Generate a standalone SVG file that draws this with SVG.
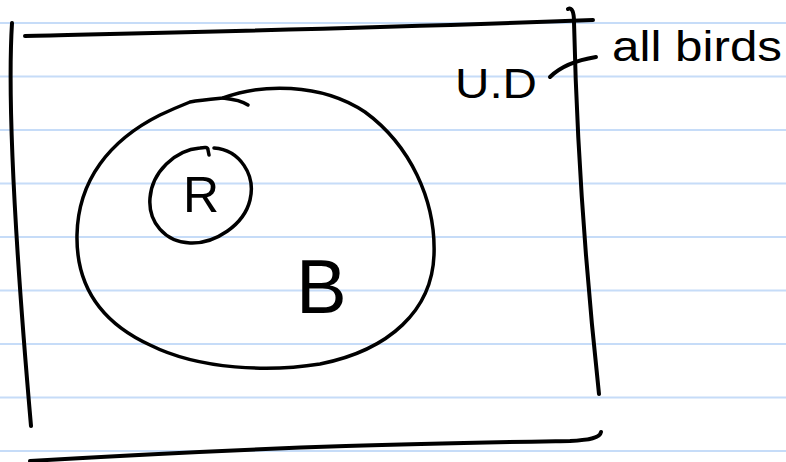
<svg xmlns="http://www.w3.org/2000/svg" width="786" height="462" viewBox="0 0 786 462">
<style>
.rule{stroke:#c6dcf8;stroke-width:2;fill:none}
.ink{stroke:#000;fill:none;stroke-linecap:round;stroke-linejoin:round}
.hand{font-family:"Liberation Sans","DejaVu Sans",sans-serif;fill:#000}
</style>
<rect width="786" height="462" fill="#fff"/>
<g id="paper-lines">
<line class="rule" x1="0" y1="23" x2="786" y2="23"/>
<line class="rule" x1="0" y1="76.5" x2="786" y2="76.5"/>
<line class="rule" x1="0" y1="130" x2="786" y2="130"/>
<line class="rule" x1="0" y1="183.5" x2="786" y2="183.5"/>
<line class="rule" x1="0" y1="237" x2="786" y2="237"/>
<line class="rule" x1="0" y1="290.5" x2="786" y2="290.5"/>
<line class="rule" x1="0" y1="344" x2="786" y2="344"/>
<line class="rule" x1="0" y1="397.5" x2="786" y2="397.5"/>
<line class="rule" x1="0" y1="451" x2="786" y2="451"/>
</g>
<g id="universe">
<path class="ink" stroke-width="4" d="M12,23 C6,120 20,300 31,426"/>
<path class="ink" stroke-width="4" d="M25,36 C150,33 350,29 593,20"/>
<path class="ink" stroke-width="4" d="M568,9 C572,7 574,12 574,22 Q578,200 599,394"/>
<path class="ink" stroke-width="4" d="M601,432 C600,438 590,440 570,441 C450,443 300,445 30,461"/>
</g>
<g id="node-B">
<path class="ink" stroke-width="3.5" d="M190,102 C200,100 212,99 223,98 C260,84 320,82 365,112 C410,145 436,200 434,255 C432,310 390,350 320,364 C270,372 200,370 150,345 C100,322 76,285 77,235 C78,180 110,140 160,115 C175,108 185,104 190,102"/>
<path class="ink" stroke-width="3.5" d="M223,98 C232,99 242,101 248,105"/>
<text class="hand" x="296" y="313" font-size="76">B</text>
</g>
<g id="node-R">
<path class="ink" stroke-width="3.5" d="M214,148 C240,150 256,175 250,200 C244,225 215,244 190,243 C165,242 148,222 150,198 C152,172 175,150 200,148 C205,147 208,147 208,150 L209,155"/>
<text class="hand" x="183" y="212" font-size="50">R</text>
</g>
<g id="node-UD">
<text class="hand" x="455" y="98" font-size="42" textLength="82" lengthAdjust="spacingAndGlyphs">U.D</text>
</g>
<g id="node-all-birds">
<text class="hand" x="612" y="61" font-size="42" textLength="170" lengthAdjust="spacingAndGlyphs">all birds</text>
</g>
<g id="connectors">
<path class="ink" stroke-width="4" d="M550,77 Q565,62 596,57"/>
</g>
</svg>
